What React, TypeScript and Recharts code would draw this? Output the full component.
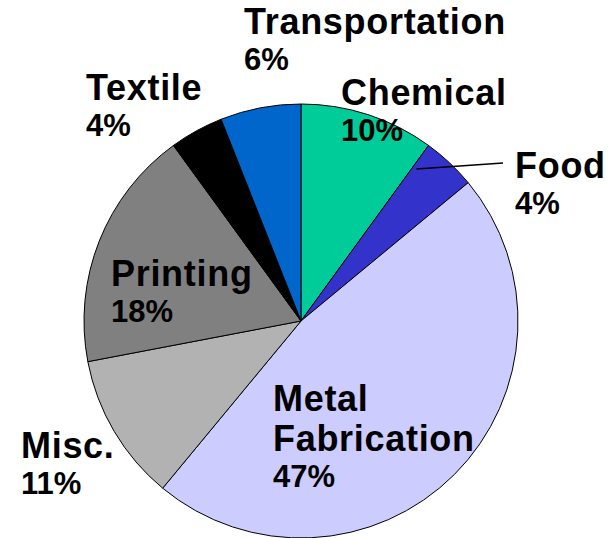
import { Cell, Pie, PieChart } from "recharts";

const categories = [
  "Chemical",
  "Food",
  "Metal Fabrication",
  "Misc.",
  "Printing",
  "Textile",
  "Transportation",
];
const shares = [10, 4, 47, 11, 18, 4, 6];
const colors = [
  "#00CC99",
  "#3333CC",
  "#CCCCFF",
  "#B2B2B2",
  "#808080",
  "#000000",
  "#0066CC",
];

const data = categories.map((name, i) => ({ name, value: shares[i] }));

// where each label block starts (left edge, baseline of first line)
const labelPos: Record<string, { x: number; y: number }> = {
  Chemical: { x: 341, y: 105 },
  Food: { x: 515, y: 178 },
  "Metal Fabrication": { x: 273, y: 411 },
  "Misc.": { x: 21, y: 458 },
  Printing: { x: 111, y: 286 },
  Textile: { x: 86, y: 100 },
  Transportation: { x: 244, y: 34 },
};

const RADIAN = Math.PI / 180;
const FONT = "'Liberation Sans', Arial, sans-serif";

const renderLabel = (props: any) => {
  const { name, value, cx, cy, startAngle, outerRadius } = props;
  const pos = labelPos[name];
  if (!pos) return null;
  const lines = name.split(" ");
  const lineGap = 40;
  const pctY = pos.y + lineGap * (lines.length - 1) + 36;
  let leader = null;
  if (name === "Food") {
    // starts just inside the slice, near its leading edge
    const r = outerRadius * 0.88;
    const a = (startAngle - 1.2) * RADIAN;
    const sx = cx + r * Math.cos(a);
    const sy = cy - r * Math.sin(a);
    leader = (
      <line x1={sx} y1={sy} x2={pos.x - 12} y2={pos.y - 15} stroke="#000" strokeWidth={1.5} />
    );
  }
  return (
    <g>
      {leader}
      {lines.map((ln: string, i: number) => (
        <text
          key={ln}
          x={pos.x}
          y={pos.y + i * lineGap}
          fontFamily={FONT}
          fontWeight="bold"
          fontSize={36}
          letterSpacing={0.7}
          fill="#000"
        >
          {ln}
        </text>
      ))}
      <text
        x={pos.x}
        y={pctY}
        fontFamily={FONT}
        fontWeight="bold"
        fontSize={31}
        fill="#000"
      >
        {`${value}%`}
      </text>
    </g>
  );
};

export default function App() {
  return (
    <div style={{ position: "absolute", left: 0, top: 0, width: 609, height: 538, background: "#fff" }}>
      <PieChart width={609} height={538} margin={{ top: 0, right: 0, bottom: 0, left: 0 }}>
        <Pie
          data={data}
          dataKey="value"
          nameKey="name"
          cx={301}
          cy={321}
          outerRadius={217}
          startAngle={90}
          endAngle={-270}
          stroke="#000"
          strokeWidth={1}
          label={renderLabel}
          labelLine={false}
          isAnimationActive={false}
        >
          {data.map((d, i) => (
            <Cell key={d.name} fill={colors[i]} />
          ))}
        </Pie>
      </PieChart>
    </div>
  );
}
